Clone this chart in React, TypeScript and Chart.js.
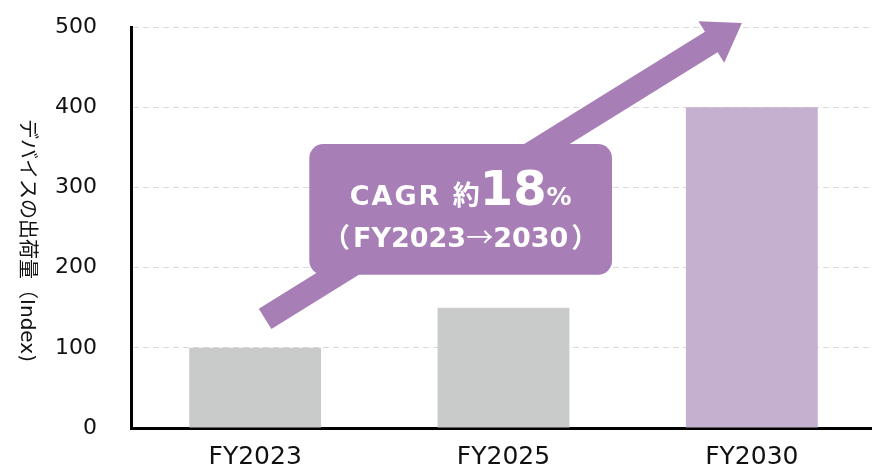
import React, { useEffect, useRef } from "react";
import { Chart, registerables } from "chart.js";

Chart.register(...registerables);

// ---- data ----
const categories = ["FY2023", "FY2025", "FY2030"];
const shipments = [100, 150, 400];
const barColors = ["#C9CBCA", "#C9CBCA", "#C5B0D0"];
const yMin = 0;
const yMax = 500;
const yStep = 100;
const yTitle = "デバイスの出荷量（Index)";
const cagrLabel = "CAGR ";
const cagrApprox = "約";
const cagrValue = "18";
const cagrUnit = "%";
const cagrPeriod = ["（", "FY2023", "→", "2030", "）"];
// annotation anchors in data units: [category index, value]
const arrowTail = [0.04, 136];
const arrowTip = [1.96, 505];
const boxTopLeft = [0.218, 354];
const boxBottomRight = [1.437, 191];

const PURPLE = "#A77FB6";
const LATIN = "'DejaVu Sans', 'Noto Sans CJK JP', sans-serif";
const CJK = "'Noto Sans CJK JP', 'DejaVu Sans', sans-serif";

const annotationPlugin = {
  id: "cagrAnnotation",
  afterDraw(chart: any) {
    const ctx: CanvasRenderingContext2D = chart.ctx;
    const xs = chart.scales.x;
    const ys = chart.scales.y;
    const px = (p: number[]) => [xs.getPixelForValue(p[0]), ys.getPixelForValue(p[1])];

    // arrow
    const [tx, ty] = px(arrowTail);
    const [hx, hy] = px(arrowTip);
    const len = Math.hypot(hx - tx, hy - ty);
    const ux = (hx - tx) / len;
    const uy = (hy - ty) / len;
    const nx = -uy;
    const ny = ux;
    const shaft = 12;
    const headLen = 36;
    const headHalf = 24.5;
    const neckX = hx - ux * headLen;
    const neckY = hy - uy * headLen;
    ctx.save();
    ctx.fillStyle = PURPLE;
    ctx.beginPath();
    ctx.moveTo(tx + nx * shaft, ty + ny * shaft);
    ctx.lineTo(neckX + nx * shaft, neckY + ny * shaft);
    ctx.lineTo(neckX + nx * headHalf, neckY + ny * headHalf);
    ctx.lineTo(hx, hy);
    ctx.lineTo(neckX - nx * headHalf, neckY - ny * headHalf);
    ctx.lineTo(neckX - nx * shaft, neckY - ny * shaft);
    ctx.lineTo(tx - nx * shaft, ty - ny * shaft);
    ctx.closePath();
    ctx.fill();

    // box
    const [bx1, by1] = px(boxTopLeft);
    const [bx2, by2] = px(boxBottomRight);
    ctx.beginPath();
    (ctx as any).roundRect(bx1, by1, bx2 - bx1, by2 - by1, 14);
    ctx.fill();

    const cx = (bx1 + bx2) / 2;
    ctx.fillStyle = "#FFFFFF";
    ctx.textBaseline = "alphabetic";
    ctx.textAlign = "left";

    // line 1
    const parts1: [string, string, string][] = [
      [cagrLabel, `bold 27px ${LATIN}`, "2px"],
      [cagrApprox, `bold 27px ${CJK}`, "0px"],
      [cagrValue, `bold 48px ${LATIN}`, "0px"],
      [cagrUnit, `bold 25px ${LATIN}`, "0px"],
    ];
    const base1 = by1 + 61;
    let widths: number[] = [];
    let total = 0;
    for (const [t, f, ls] of parts1) {
      ctx.font = f;
      (ctx as any).letterSpacing = ls;
      const w = ctx.measureText(t).width;
      widths.push(w);
      total += w;
    }
    let x = cx - total / 2;
    parts1.forEach(([t, f, ls], i) => {
      ctx.font = f;
      (ctx as any).letterSpacing = ls;
      ctx.fillText(t, x, base1);
      x += widths[i];
    });
    (ctx as any).letterSpacing = "0px";

    // line 2
    const fonts2 = [
      `bold 27px ${CJK}`,
      `bold 27px ${LATIN}`,
      `27px ${CJK}`,
      `bold 27px ${LATIN}`,
      `bold 27px ${CJK}`,
    ];
    const gaps2 = [3, 0, 0, 3, 0];
    const base2 = by1 + 103;
    widths = [];
    total = 0;
    cagrPeriod.forEach((t, i) => {
      ctx.font = fonts2[i];
      const w = ctx.measureText(t).width + gaps2[i];
      widths.push(w);
      total += w;
    });
    x = cx - total / 2;
    cagrPeriod.forEach((t, i) => {
      ctx.font = fonts2[i];
      ctx.fillText(t, x, base2);
      x += widths[i];
    });

    // y axis title (rotated clockwise)
    ctx.fillStyle = "#111";
    ctx.font = `20px ${LATIN}`;
    ctx.textAlign = "center";
    ctx.textBaseline = "middle";
    ctx.translate(26, (chart.chartArea.top + chart.chartArea.bottom) / 2 + 13);
    ctx.rotate(Math.PI / 2);
    ctx.fillText(yTitle, 0, 0);
    ctx.restore();
  },
};

export default function App() {
  const ref = useRef<HTMLCanvasElement | null>(null);

  useEffect(() => {
    if (!ref.current) return;
    const chart = new Chart(ref.current, {
      type: "bar",
      data: {
        labels: categories,
        datasets: [
          {
            data: shipments,
            backgroundColor: barColors,
            barPercentage: 0.531,
            categoryPercentage: 1,
          },
        ],
      },
      options: {
        responsive: false,
        animation: false,
        layout: { padding: { top: 27, right: 4, left: 0, bottom: 0 } },
        plugins: { legend: { display: false }, tooltip: { enabled: false } },
        scales: {
          x: {
            type: "category",
            grid: { display: false },
            border: { display: true, color: "#000", width: 3 },
            ticks: {
              color: "#111",
              padding: 6,
              font: { family: LATIN, size: 25 },
            },
            afterFit: (s: any) => {
              s.height = 52;
              s.paddingLeft = 0;
              s.paddingRight = 0;
            },
          },
          y: {
            min: yMin,
            max: yMax,
            ticks: {
              stepSize: yStep,
              color: "#111",
              padding: 34,
              font: { family: LATIN, size: 22 },
            },
            grid: { color: "#D9D9D9", lineWidth: 1, drawTicks: false },
            border: { display: true, color: "#000", width: 3, dash: [6, 4] },
            afterFit: (s: any) => {
              s.width = 131;
              s.paddingTop = 0;
              s.paddingBottom = 0;
            },
          },
        },
      },
      plugins: [annotationPlugin],
    } as any);
    return () => chart.destroy();
  }, []);

  return (
    <div
      style={{
        position: "fixed",
        left: 0,
        top: 0,
        width: 872,
        height: 464,
        overflow: "hidden",
        background: "#fff",
      }}
    >
      <canvas
        ref={ref}
        width={880}
        height={480}
        style={{ width: 880, height: 480, display: "block" }}
      />
    </div>
  );
}
